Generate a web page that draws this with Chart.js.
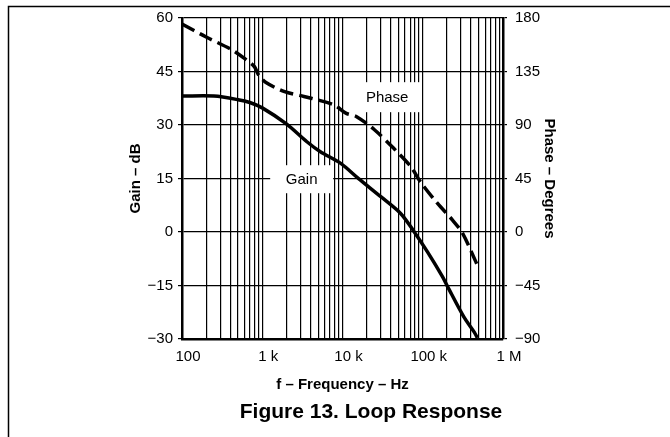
<!DOCTYPE html>
<html>
<head>
<meta charset="utf-8">
<script src="https://cdn.jsdelivr.net/npm/chart.js@4/dist/chart.umd.min.js"></script>
<style>
  body { margin: 0; background: #fff; }
  #wrap { width: 670px; height: 437px; position: relative; }
</style>
</head>
<body>
<div id="wrap"><canvas id="chart"></canvas></div>
<script>
// values
const gainFreq = [100, 250, 500, 700, 1000, 2000, 3600, 5300, 9400, 16000, 30000, 53000, 78000, 114000, 176000, 204000, 325000, 436000, 480000];
const gainDb   = [38.1, 38.1, 37.1, 36.3, 34.8, 30.3, 25.3, 22.5, 19.3, 14.9, 9.9, 5.2, 0.1, -5.5, -12.5, -15.3, -23.8, -28.0, -29.7];

const phaseFreq = [100, 200, 400, 600, 800, 900, 1100, 1900, 3300, 7800, 11000, 15000, 25000, 44000, 71000, 94000, 153000, 235000, 313000, 480000];
const phaseDeg  = [175, 164, 154, 146, 139, 132, 126, 118, 114, 107, 100, 97, 86, 70, 55, 42, 24, 10, -1, -28];

const xMajors = [100, 1000, 10000, 100000, 1000000];
const xLabels = ['100', '1 k', '10 k', '100 k', '1 M'];
const gainTicks = [-30, -15, 0, 15, 30, 45, 60];
const phaseTicks = [-90, -45, 0, 45, 90, 135, 180];

// curve labels: [text, freq, gain dB, box w, box h]
const curveLabels = [['Gain', 3100, 14.8, 63, 28], ['Phase', 36000, 37.8, 66, 30]];

Chart.defaults.font.family = '"Liberation Sans", Arial, sans-serif';
Chart.defaults.color = '#000';

const minus = v => v < 0 ? '\u2212' + (-v) : String(v);

const decor = {
  id: 'decor',
  beforeDatasetsDraw(chart) {
    const ctx = chart.ctx, x = chart.scales.x, y = chart.scales.y;
    ctx.save();
    ctx.font = '15px "Liberation Sans", Arial, sans-serif';
    ctx.textAlign = 'center';
    ctx.textBaseline = 'middle';
    curveLabels.forEach(([t, f, v, w, h]) => {
      const px = x.getPixelForValue(f), py = y.getPixelForValue(v);
      ctx.fillStyle = '#fff';
      ctx.fillRect(px - w / 2, py - h / 2, w, h);
      ctx.fillStyle = '#000';
      ctx.fillText(t, px, py + 1);
    });
    ctx.restore();
  },
  afterDraw(chart) {
    const ctx = chart.ctx;
    ctx.save();
    ctx.strokeStyle = '#000';
    ctx.lineWidth = 1.5;
    ctx.beginPath();
    ctx.moveTo(8.5, 437);
    ctx.lineTo(8.5, 6.5);
    ctx.lineTo(670, 6.5);
    ctx.stroke();
    ctx.font = 'bold 21px "Liberation Sans", Arial, sans-serif';
    ctx.textAlign = 'center';
    ctx.textBaseline = 'middle';
    ctx.fillText('Figure 13. Loop Response', 371, 412);
    ctx.restore();
  }
};

new Chart(document.getElementById('chart'), {
  type: 'line',
  data: {
    datasets: [{
      label: 'Gain',
      data: gainFreq.map((f, i) => ({ x: f, y: gainDb[i] })),
      yAxisID: 'y',
      borderColor: '#000',
      borderWidth: 3.5,
      pointRadius: 0,
      tension: 0.3
    }, {
      label: 'Phase',
      data: phaseFreq.map((f, i) => ({ x: f, y: phaseDeg[i] })),
      yAxisID: 'y1',
      borderColor: '#000',
      borderWidth: 3.5,
      borderDash: [14, 6],
      pointRadius: 0,
      tension: 0.3
    }]
  },
  options: {
    responsive: true,
    maintainAspectRatio: false,
    animation: false,
    layout: { padding: { left: 125, right: 110, top: 18, bottom: 40 } },
    plugins: { legend: { display: false }, tooltip: { enabled: false } },
    scales: {
      x: {
        type: 'logarithmic',
        min: 100,
        max: 1000000,
        afterBuildTicks: s => {
          const t = [];
          xMajors.slice(0, -1).forEach(d => { for (let k = 1; k < 10; k++) t.push({ value: d * k }); });
          t.push({ value: 1000000 });
          s.ticks = t;
        },
        afterFit: s => { s.height = 58; },
        ticks: {
          autoSkip: false,
          maxRotation: 0,
          padding: 9,
          labelOffset: 6,
          font: { size: 15 },
          callback: v => { const i = xMajors.indexOf(v); return i >= 0 ? xLabels[i] : ''; }
        },
        grid: { color: '#000', lineWidth: 1.2, drawTicks: false },
        border: { color: '#000', width: 2.5 },
        title: { display: true, text: 'f \u2013 Frequency \u2013 Hz', font: { size: 15, weight: 'bold' }, padding: { top: 4, bottom: 3 } }
      },
      y: {
        position: 'left',
        min: -30,
        max: 60,
        afterBuildTicks: s => { s.ticks = gainTicks.map(v => ({ value: v })); },
        afterFit: s => { s.width = 57; },
        ticks: { padding: 5, font: { size: 15 }, callback: minus },
        grid: { color: '#000', lineWidth: 1.2, tickLength: 4 },
        border: { color: '#000', width: 2.5 },
        title: { display: true, text: 'Gain \u2013 dB', font: { size: 15, weight: 'bold' }, padding: { top: 2, bottom: 2 } }
      },
      y1: {
        position: 'right',
        min: -90,
        max: 180,
        afterBuildTicks: s => { s.ticks = phaseTicks.map(v => ({ value: v })); },
        afterFit: s => { s.width = 57; },
        ticks: { padding: 8, font: { size: 15 }, callback: minus },
        grid: { color: '#000', lineWidth: 1.2, tickLength: 4, drawOnChartArea: false },
        border: { color: '#000', width: 2.5 },
        title: { display: true, text: 'Phase \u2013 Degrees', font: { size: 15, weight: 'bold' }, padding: { top: 2, bottom: 2 } }
      }
    }
  },
  plugins: [decor]
});
</script>
</body>
</html>
